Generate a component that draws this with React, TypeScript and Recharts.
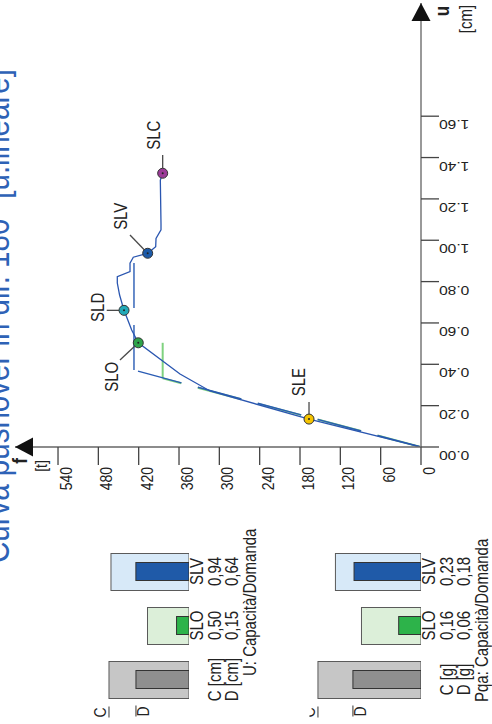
import React from 'react';
import { ComposedChart, Line, Scatter, XAxis, YAxis, BarChart, Bar } from 'recharts';

// ---------------- data ----------------
const fTicks = [0, 60, 120, 180, 240, 300, 360, 420, 480, 540];
const uTicks = [0, 0.2, 0.4, 0.6, 0.8, 1.0, 1.2, 1.4, 1.6];

// pushover curve: base shear f [t], displacement u [cm]
const curveF = [0, 166.6, 313.9, 358.5, 420.6, 430.4, 441.8, 448.4, 451.8, 451.8, 432.9, 432.9, 428.0, 406.6, 400.6, 394.7, 394.2, 386.8, 386.8, 387.8, 384.3];
const curveU = [0, 0.135, 0.271, 0.353, 0.504, 0.566, 0.661, 0.735, 0.793, 0.824, 0.848, 0.889, 0.918, 0.937, 0.953, 0.969, 1.009, 1.05, 1.079, 1.291, 1.324];

const stateNames = ['SLE', 'SLO', 'SLD', 'SLV', 'SLC'];
const stateF = [166.6, 420.6, 441.8, 406.6, 384.3];
const stateU = [0.135, 0.504, 0.661, 0.937, 1.324];

const blueElasticF = [0, 427];
const blueElasticU = [0, 0.372];
const bluePlateauF = [427, 427];
const bluePlateauU = [0.89, 0.372];
const greenElasticF = [0, 384.3];
const greenElasticU = [0, 0.332];
const greenPlateauF = [384.3, 384.3];
const greenPlateauU = [0.332, 0.504];

const barRows = ['SLV', 'SLO', 'key'];
const dispC = [0.94, 0.5, 0.964];
const dispD = [0.64, 0.15, 0.639];
const pgaC = [0.23, 0.16, 0.277];
const pgaD = [0.18, 0.06, 0.183];

// ---------------- styles ----------------
const SX = 1.2;
const FONT = '"Liberation Sans", Arial, Helvetica, sans-serif';
const TXT = '#222';

const MARKER_STYLE: Record<string, { fill: string; leader: [number, number]; lx: number; ly: number }> = {
  SLE: { fill: '#f5c400', leader: [0, -17], lx: -10, ly: -37 },
  SLO: { fill: '#2ea34a', leader: [-18.3, 17.3], lx: -27, ly: 34 },
  SLD: { fill: '#22a9b8', leader: [-17.3, 0], lx: -26.5, ly: -3 },
  SLV: { fill: '#1c5aa8', leader: [-17.7, -18.3], lx: -27, ly: -37 },
  SLC: { fill: '#9c3a98', leader: [0, -18.3], lx: -9, ly: -38 },
};

const BAR_STYLE: Record<string, { outer: string; inner: string }> = {
  SLV: { outer: '#d7e9f8', inner: '#1f5aa8' },
  SLO: { outer: '#dcefd9', inner: '#2db34a' },
  key: { outer: '#c6c6c6', inner: '#8f8f8f' },
};

const pts = (fs: number[], us: number[]) => fs.map((f, i) => ({ f, u: us[i] }));
const curveData = pts(curveF, curveU);
const stateData = stateNames.map((name, i) => ({ name, f: stateF[i], u: stateU[i] }));
const rowsDisp = barRows.map((name, i) => ({ name, c: dispC[i], d: dispD[i] }));
const rowsPga = barRows.map((name, i) => ({ name, c: pgaC[i], d: pgaD[i] }));

const fmt = (v: number) => v.toFixed(2).replace('.', ',');

function RText({ x, y, angle, anchor = 'start', size = 14, weight = 'normal', fill = TXT, dy, children }: any) {
  return (
    <text
      transform={`translate(${x} ${y}) scale(${SX} 1) rotate(${angle})`}
      x={0}
      y={0}
      dy={dy}
      textAnchor={anchor}
      fontSize={size}
      fontWeight={weight}
      fill={fill}
      fontFamily={FONT}
    >
      {children}
    </text>
  );
}

const renderFTick = (p: any) => (
  <RText x={p.x + 14} y={p.y + 2} angle={-90} anchor="end" size={14}>
    {String(p.payload.value)}
  </RText>
);

const renderUTick = (p: any) => (
  <RText x={p.x} y={p.y + 4} angle={180} anchor="end" size={13}>
    {Number(p.payload.value).toFixed(2)}
  </RText>
);

const MarkerShape = (props: any) => {
  const { cx, cy, payload } = props;
  const st = MARKER_STYLE[payload.name];
  const r = 5;
  const [ex, ey] = st.leader;
  const len = Math.hypot(ex, ey);
  return (
    <g>
      <line x1={cx + (ex / len) * r} y1={cy + (ey / len) * r} x2={cx + ex} y2={cy + ey} stroke="#4a4a4a" strokeWidth={1.3} />
      <circle cx={cx} cy={cy} r={r} fill={st.fill} stroke="#333" strokeWidth={1} />
      <circle cx={cx} cy={cy} r={1} fill="#222" />
      <RText x={cx + st.lx} y={cy + st.ly} angle={-90} anchor="middle" size={15} dy="0.35em">
        {payload.name}
      </RText>
    </g>
  );
};

const outerShape = (props: any) => {
  const { x, y, width, height, payload } = props;
  const left = Math.min(x, x + width);
  const w = Math.abs(width);
  const st = BAR_STYLE[payload.name];
  return (
    <g>
      <rect x={left} y={y} width={w} height={height} fill={st.outer} stroke="#5a5a5a" strokeWidth={1} />
      {payload.name === 'key' && (
        <g>
          <line x1={left} x2={left} y1={y + height + 8} y2={y + height + 19} stroke="#333" strokeWidth={1} />
          <RText x={left - 9} y={y + height + 14} angle={-90} anchor="middle" size={14} dy="0.35em">C</RText>
        </g>
      )}
    </g>
  );
};

const innerShape = (props: any) => {
  const { x, y, width, height, payload } = props;
  const left = Math.min(x, x + width);
  const w = Math.abs(width);
  const st = BAR_STYLE[payload.name];
  return (
    <g>
      <rect x={left} y={y} width={w} height={height} fill={st.inner} stroke="#333" strokeWidth={1} />
      {payload.name === 'key' && (
        <g>
          <line x1={left} x2={left} y1={y + height + 17} y2={y + height + 28} stroke="#333" strokeWidth={1} />
          <RText x={left + 7.5} y={y + height + 23} angle={-90} anchor="middle" size={14} dy="0.35em">D</RText>
        </g>
      )}
    </g>
  );
};

const makeBarTick = (C: number[], D: number[], unit: string) => (p: any) => {
  const name = p.payload.value;
  const i = barRows.indexOf(name);
  const isKey = name === 'key';
  const l1 = isKey ? '' : name;
  const l2 = isKey ? `C [${unit}]` : fmt(C[i]);
  const l3 = isKey ? `D [${unit}]` : fmt(D[i]);
  return (
    <g>
      <RText x={p.x + 13.5} y={p.y} angle={-90} anchor="middle" size={15}>{l1}</RText>
      <RText x={p.x + 31.5} y={p.y} angle={-90} anchor="middle" size={15}>{l2}</RText>
      <RText x={p.x + 48.5} y={p.y} angle={-90} anchor="middle" size={15}>{l3}</RText>
    </g>
  );
};

const tickDisp = makeBarTick(dispC, dispD, 'cm');
const tickPga = makeBarTick(pgaC, pgaD, 'g');

function CapBars({ rows, max, tick, yAxisWidth, width }: any) {
  return (
    <BarChart width={width} height={204} layout="vertical" data={rows} margin={{ top: 24.5, right: 0, bottom: 17.5, left: 9.4 }}>
      <XAxis type="number" domain={[0, max]} reversed hide allowDataOverflow />
      <YAxis yAxisId="o" type="category" dataKey="name" hide />
      <YAxis
        yAxisId="i"
        type="category"
        dataKey="name"
        orientation="right"
        width={yAxisWidth}
        axisLine={false}
        tickLine={false}
        tickSize={0}
        tickMargin={0}
        interval={0}
        tick={tick}
      />
      <Bar yAxisId="o" dataKey="c" barSize={37} shape={outerShape} isAnimationActive={false} />
      <Bar yAxisId="i" dataKey="d" barSize={18} shape={innerShape} isAnimationActive={false} />
    </BarChart>
  );
}

export default function App() {
  return (
    <div style={{ position: 'absolute', left: 0, top: 0, width: 492, height: 724, background: '#fff', overflow: 'hidden' }}>
      <div style={{ position: 'absolute', left: 0, top: 0 }}>
        <ComposedChart width={492} height={724} margin={{ top: 3, right: 11, bottom: 237, left: 15 }}>
          <XAxis
            type="number"
            dataKey="f"
            domain={[0, 604]}
            allowDataOverflow
            reversed
            ticks={fTicks}
            interval={0}
            tickSize={18}
            tickMargin={0}
            height={40}
            axisLine={{ stroke: '#666', strokeWidth: 1.5 }}
            tickLine={{ stroke: '#444', strokeWidth: 1.3 }}
            tick={renderFTick}
          />
          <YAxis
            type="number"
            dataKey="u"
            orientation="right"
            domain={[0, 2.1475]}
            allowDataOverflow
            ticks={uTicks}
            interval={0}
            tickSize={18}
            tickMargin={0}
            width={60}
            axisLine={{ stroke: '#777', strokeWidth: 1.5 }}
            tickLine={{ stroke: '#444', strokeWidth: 1.3 }}
            tick={renderUTick}
          />
          <Line data={pts(greenElasticF, greenElasticU)} dataKey="u" stroke="#7fd27f" strokeWidth={2} strokeDasharray="45 17" dot={false} activeDot={false} isAnimationActive={false} />
          <Line data={pts(greenPlateauF, greenPlateauU)} dataKey="u" stroke="#7fd27f" strokeWidth={2} dot={false} activeDot={false} isAnimationActive={false} />
          <Line data={pts(blueElasticF, blueElasticU)} dataKey="u" stroke="#2a5cb4" strokeWidth={1.4} strokeDasharray="45 17" dot={false} activeDot={false} isAnimationActive={false} />
          <Line data={pts(bluePlateauF, bluePlateauU)} dataKey="u" stroke="#2a5cb4" strokeWidth={1.4} strokeDasharray="45 17" dot={false} activeDot={false} isAnimationActive={false} />
          <Line data={curveData} dataKey="u" stroke="#2a56b0" strokeWidth={1.3} dot={false} activeDot={false} isAnimationActive={false} />
          <Scatter data={stateData} dataKey="u" shape={MarkerShape} isAnimationActive={false} />
        </ComposedChart>
      </div>
      <div style={{ position: 'absolute', left: 80, top: 520 }}>
        <CapBars rows={rowsDisp} max={1.2} tick={tickDisp} yAxisWidth={91} width={200} />
      </div>
      <div style={{ position: 'absolute', left: 300, top: 520 }}>
        <CapBars rows={rowsPga} max={0.3} tick={tickPga} yAxisWidth={71} width={192} />
      </div>
      <svg width={492} height={724} style={{ position: 'absolute', left: 0, top: 0, pointerEvents: 'none' }}>
        <RText x={9} y={563} angle={-90} anchor="start" size={29.5} fill="#2e62b6">
          Curva pushover in dir. 180° [u.lineare]
        </RText>
        <polygon points="421,3 411.5,21 430.5,21" fill="#111" />
        <polygon points="15,447 33,437.5 33,456.5" fill="#111" />
        <RText x={443} y={11} angle={-90} anchor="middle" size={17} weight="bold" dy="0.3em">u</RText>
        <RText x={465.5} y={19} angle={-90} anchor="middle" size={15} dy="0.35em">[cm]</RText>
        <RText x={20} y={461} angle={-90} anchor="middle" size={17} weight="bold" dy="0.35em">f</RText>
        <RText x={41.5} y={466} angle={-90} anchor="middle" size={14} dy="0.35em">[t]</RText>
        <RText x={256} y={676} angle={-90} anchor="start" size={15}>U: Capacità/Domanda</RText>
        <RText x={488} y={702} angle={-90} anchor="start" size={15}>Pqa: Capacità/Domanda</RText>
      </svg>
    </div>
  );
}
